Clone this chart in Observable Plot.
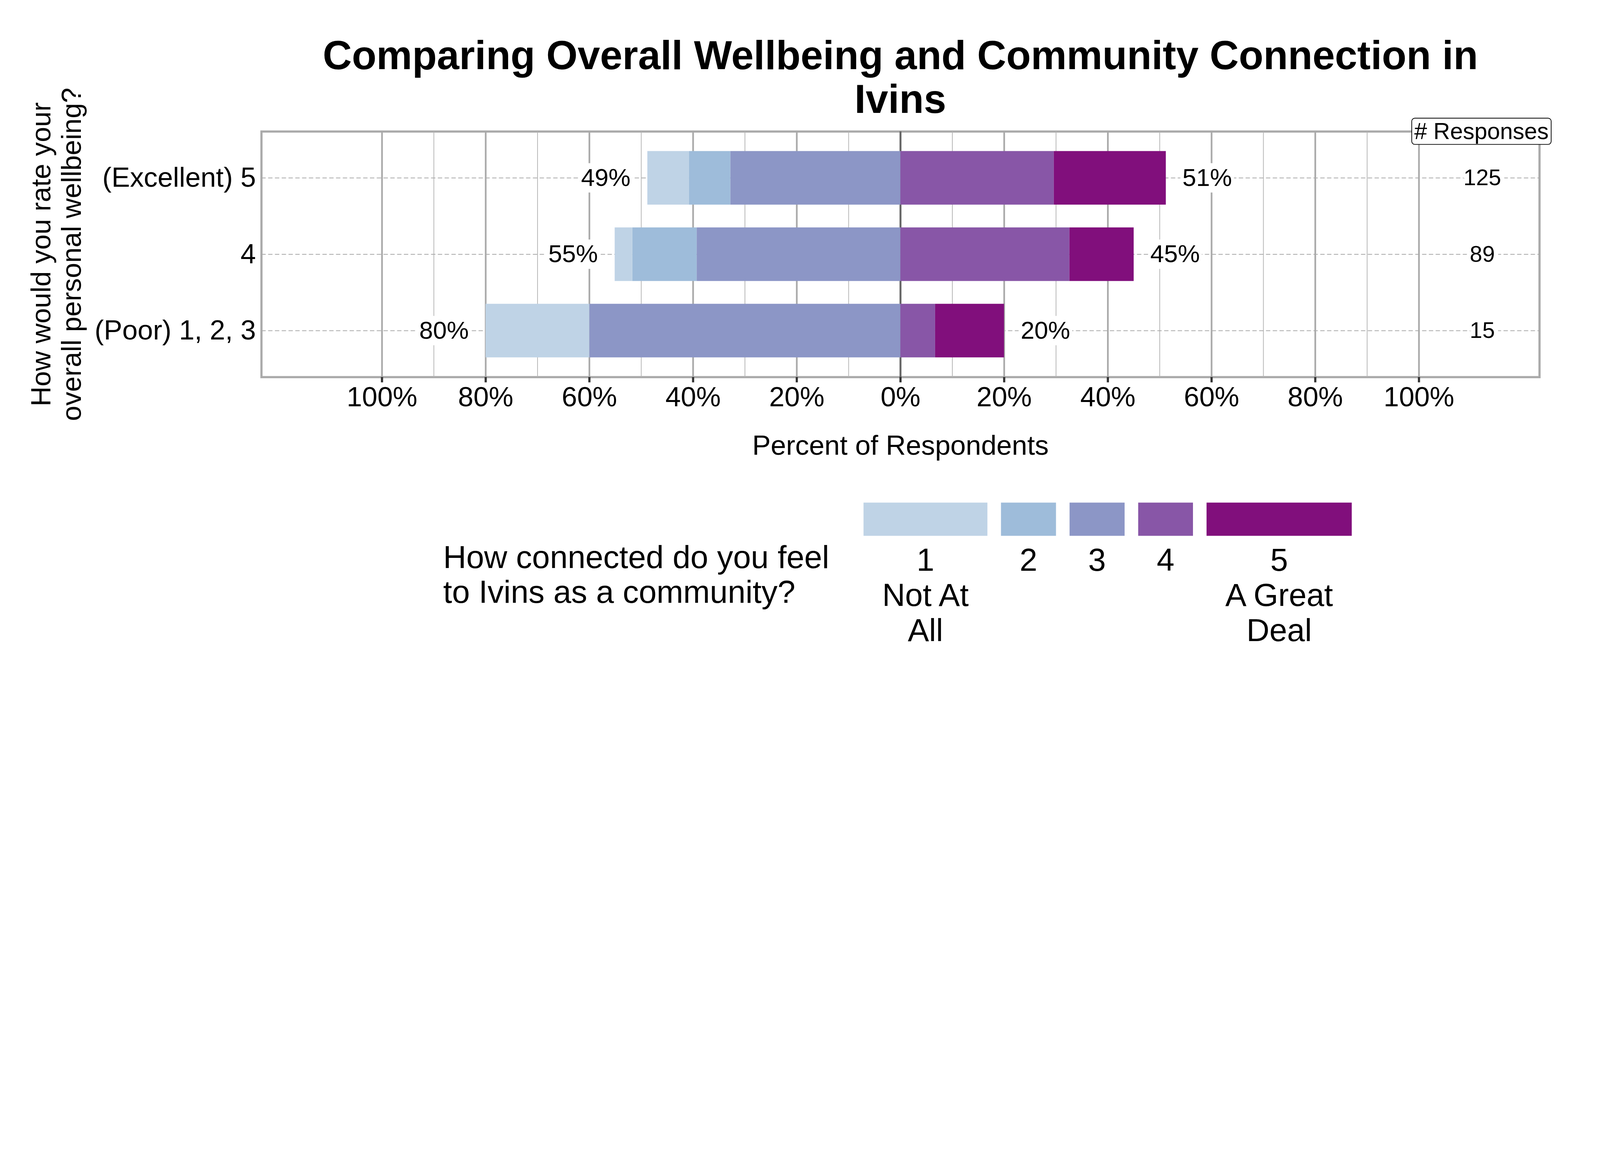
<!DOCTYPE html>
<html>
<head>
<meta charset="utf-8">
<script src="https://cdn.jsdelivr.net/npm/d3@7"></script>
<script src="https://cdn.jsdelivr.net/npm/@observablehq/plot@0.6"></script>
<style>
  html, body { margin: 0; padding: 0; background: white; overflow: hidden; }
  #page { position: absolute; left: 0; top: 0; width: 6600px; height: 3000px; background: white;
          transform-origin: 0 0;
          font-family: "Liberation Sans", Arial, sans-serif; color: black; overflow: hidden; }
  #title { position: absolute; left: 1078px; width: 5272px; top: 139px; text-align: center;
           font-weight: bold; font-size: 166px; line-height: 179px; }
  #chart { position: absolute; left: 0; top: 500px; }
  #resp { position: absolute; left: 5822px; top: 486px; width: 578px; height: 111px; box-sizing: border-box;
          border: 3px solid black; border-radius: 14px; background: white; text-align: center;
          font-size: 95px; line-height: 105px; }
  #legtitle { position: absolute; left: 1828px; top: 2226px; font-size: 132px; line-height: 143px; white-space: pre; }
  #legitems { position: absolute; left: 3562px; top: 2073px; display: flex; gap: 56px; align-items: flex-start; }
  .item { display: flex; flex-direction: column; align-items: stretch; padding: 0; }
  .sw { height: 137px; }
  .lab { padding: 0 77px; margin-top: 26px; font-size: 131px; line-height: 145px; text-align: center; white-space: pre; }
</style>
</head>
<body>
<div id="page">
  <div id="title"></div>
  <div id="chart"></div>
  <div id="resp"></div>
  <div id="legtitle"></div>
  <div id="legitems"></div>
</div>
<script>
// ---- data ----
const titleLines = ["Comparing Overall Wellbeing and Community Connection in", "Ivins"];
const yTitle = "How would you rate your\noverall personal wellbeing?";
const xTitle = "Percent of Respondents";
const respTitle = "# Responses";
const legendTitle = "How connected do you feel\nto Ivins as a community?";

const rows = ["(Excellent) 5", "4", "(Poor) 1, 2, 3"];
const levels = ["1", "2", "3", "4", "5"];
const levelLabels = ["1\nNot At\nAll", "2", "3", "4", "5\nA Great\nDeal"];
const colors = ["#bfd3e6", "#9ebcda", "#8c96c6", "#8856a7", "#810f7c"];

// percent of respondents per connection level (1..5) for each wellbeing row
const pctExcellent = [8.0, 8.0, 32.8, 29.6, 21.6];
const pctFour      = [3.4, 12.4, 39.3, 32.6, 12.4];
const pctPoor      = [20.0, 0.0, 60.0, 6.7, 13.3];
const responses = [125, 89, 15];

const majorTicks = [-100, -80, -60, -40, -20, 0, 20, 40, 60, 80, 100];
const minorTicks = [-90, -70, -50, -30, -10, 10, 30, 50, 70, 90];

// ---- build tables ----
const pcts = [pctExcellent, pctFour, pctPoor];
const segs = [];
const leftLbl = [];
const rightLbl = [];
rows.forEach((row, r) => {
  const p = pcts[r];
  let cum = 0;
  for (const i of [2, 1, 0]) {
    const x2 = -cum; cum += p[i];
    segs.push({row, level: levels[i], x1: -cum, x2});
  }
  leftLbl.push({row, x: -cum, label: Math.round(cum) + "%"});
  cum = 0;
  for (const i of [3, 4]) {
    const x1 = cum; cum += p[i];
    segs.push({row, level: levels[i], x1, x2: cum});
  }
  rightLbl.push({row, x: cum, label: Math.round(cum) + "%"});
});
const countRows = rows.map((row, r) => ({row, n: String(responses[r])}));

const chart = Plot.plot({
  width: 6600,
  height: 1450,
  marginTop: 42,
  marginBottom: 395,
  marginLeft: 1078,
  marginRight: 250,
  style: {fontFamily: '"Liberation Sans", Arial, sans-serif', background: "white", overflow: "visible", color: "black"},
  x: {domain: [-123.25, 123.25], label: null},
  y: {domain: rows, paddingInner: 0.3, paddingOuter: 0.253, label: null},
  color: {domain: levels, range: colors},
  marks: [
    Plot.frame({stroke: "#aaaaaa", strokeWidth: 9}),
    Plot.ruleX(minorTicks, {stroke: "#b3b3b3", strokeWidth: 3}),
    Plot.ruleX(majorTicks.filter(d => d !== 0), {stroke: "#aaaaaa", strokeWidth: 7}),
    Plot.ruleX([0], {stroke: "#666666", strokeWidth: 8}),
    Plot.ruleY(rows, {y: d => d, stroke: "#aaaaaa", strokeWidth: 3.5, strokeDasharray: "18,10"}),
    Plot.barX(segs, {x1: "x1", x2: "x2", y: "row", fill: "level"}),
    Plot.barX(leftLbl, {x1: "x", x2: "x", y: "row", fill: "white", insetLeft: -283, insetRight: 62, insetTop: 50, insetBottom: 50}),
    Plot.barX(rightLbl, {x1: "x", x2: "x", y: "row", fill: "white", insetLeft: 60, insetRight: -281, insetTop: 50, insetBottom: 50}),
    Plot.text(leftLbl, {x: "x", y: "row", text: "label", textAnchor: "end", lineAnchor: "middle", dx: -70, fontSize: 102, fill: "black"}),
    Plot.text(rightLbl, {x: "x", y: "row", text: "label", textAnchor: "start", lineAnchor: "middle", dx: 68, fontSize: 102, fill: "black"}),
    Plot.text(countRows, {y: "row", text: "n", frameAnchor: "right", textAnchor: "middle", lineAnchor: "middle", dx: -236, fontSize: 93, fill: "black", stroke: "white", strokeWidth: 36}),
    Plot.axisX({ticks: majorTicks, tickSize: 22, tickPadding: 18, stroke: "#333333", strokeWidth: 9, fill: "black",
                fontSize: 114, tickFormat: d => Math.abs(d) + "%", label: null}),
    Plot.axisY({tickSize: 0, tickPadding: 23, fontSize: 114, fill: "black", label: null}),
    Plot.text([xTitle], {text: d => d, frameAnchor: "bottom", textAnchor: "middle", lineAnchor: "middle", dy: 283, fontSize: 114, fill: "black"}),
    Plot.text([yTitle], {text: d => d, frameAnchor: "left", textAnchor: "middle", lineAnchor: "middle", rotate: -90, dx: -848, fontSize: 114, lineHeight: 1.1, fill: "black"})
  ]
});
document.getElementById("chart").appendChild(chart);

document.getElementById("title").innerHTML = titleLines.join("<br>");
document.getElementById("resp").textContent = respTitle;
document.getElementById("legtitle").textContent = legendTitle;
const items = document.getElementById("legitems");
levels.forEach((lv, i) => {
  const it = document.createElement("div"); it.className = "item";
  const sw = document.createElement("div"); sw.className = "sw"; sw.style.background = colors[i];
  const lab = document.createElement("div"); lab.className = "lab"; lab.textContent = levelLabels[i];
  it.appendChild(sw); it.appendChild(lab); items.appendChild(it);
});

// fit the 6600x3000 design into whatever CSS viewport the browser provides
function fit() {
  const w = document.documentElement.clientWidth || window.innerWidth || 6600;
  const h = window.innerHeight || 3000;
  const s = Math.min(w / 6600, h / 3000);
  const page = document.getElementById("page");
  page.style.transform = "scale(" + s + ")";
  document.body.style.width = (6600 * s) + "px";
  document.body.style.height = (3000 * s) + "px";
}
fit();
window.addEventListener("resize", fit);
</script>
</body>
</html>
